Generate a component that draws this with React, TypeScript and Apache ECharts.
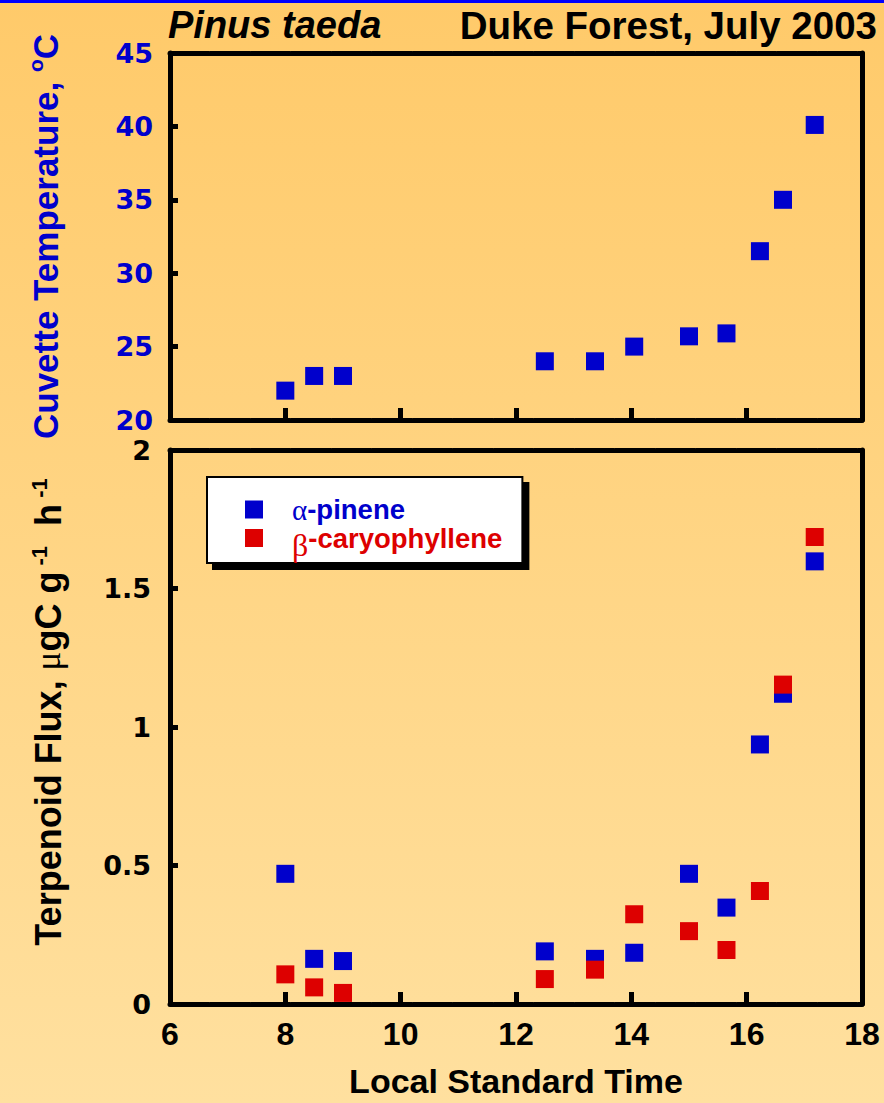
import React, { useEffect, useRef } from "react";
import * as echarts from "echarts";

// ---- Data ----
const timeHours = [8.0, 8.5, 9.0, 12.5, 13.37, 14.05, 15.0, 15.65, 16.23, 16.63, 17.18];
const cuvetteTemperature = [22, 23, 23, 24, 24, 25, 25.7, 25.9, 31.5, 35, 40.1];
const alphaPinene = [0.47, 0.163, 0.155, 0.19, 0.163, 0.185, 0.47, 0.348, 0.937, 1.12, 1.598];
const betaCaryophyllene = [0.107, 0.06, 0.04, 0.09, 0.124, 0.324, 0.263, 0.195, 0.408, 1.153, 1.686];

const seriesNames = ["α-pinene", "β-caryophyllene"];
const titleLeft = "Pinus taeda";
const titleRight = "Duke Forest, July 2003";
const xAxisTitle = "Local Standard Time";

const xRange = { min: 6, max: 18, interval: 2 };
const tempRange = { min: 20, max: 45, interval: 5 };
const fluxRange = { min: 0, max: 2, interval: 0.5 };

// ---- Styles ----
const SANS = '"Liberation Sans", Arial, Helvetica, sans-serif';
const WIDE = '"DejaVu Sans", Verdana, sans-serif';
const SERIF = '"Liberation Serif", "Times New Roman", serif';
const BLUE = "#0000CC";
const RED = "#DD0000";

const solidFrame = { show: true, onZero: false, lineStyle: { color: "#000", width: 5 } };
const dashedFrame = { show: true, onZero: false, lineStyle: { color: "#000", width: 5, type: [39, 1.5] } };
const xTickInside = { show: true, inside: true, length: 12, lineStyle: { color: "#000", width: 5 } };
const yTickInside = { show: true, inside: true, length: 8, lineStyle: { color: "#000", width: 5 } };

function buildOption(): any {
  const baseX = { type: "value", ...xRange, splitLine: { show: false } };
  const xAxis = [
    { ...baseX, gridIndex: 0, position: "bottom", axisLine: dashedFrame, axisTick: xTickInside, axisLabel: { show: false } },
    { ...baseX, gridIndex: 0, position: "top", axisLine: dashedFrame, axisTick: { show: false }, axisLabel: { show: false } },
    {
      ...baseX, gridIndex: 1, position: "bottom", axisLine: dashedFrame, axisTick: xTickInside,
      axisLabel: { show: true, color: "#000", fontFamily: SANS, fontWeight: "bold", fontSize: 32, margin: 14 },
      name: xAxisTitle, nameLocation: "middle", nameGap: 60,
      nameTextStyle: { color: "#000", fontFamily: SANS, fontWeight: "bold", fontSize: 34 },
    },
    { ...baseX, gridIndex: 1, position: "top", axisLine: dashedFrame, axisTick: { show: false }, axisLabel: { show: false } },
  ];

  const supStyle = (color: string, size: number) => ({ fontFamily: SANS, fontWeight: "bold", fontSize: size, color, lineHeight: 10, verticalAlign: "top" });
  const mainStyle = (color: string, size: number) => ({ fontFamily: SANS, fontWeight: "bold", fontSize: size, color, lineHeight: 40 });

  const yAxis = [
    {
      type: "value", gridIndex: 0, ...tempRange, position: "left", splitLine: { show: false },
      axisLine: solidFrame, axisTick: yTickInside,
      axisLabel: { color: BLUE, fontFamily: WIDE, fontWeight: "bold", fontSize: 27, margin: 17 },
      name: "{t|Cuvette Temperature, }{s|o}{t|C}", nameLocation: "middle", nameGap: 105, nameRotate: 90,
      nameTextStyle: { rich: { t: mainStyle(BLUE, 35), s: supStyle(BLUE, 21) } },
    },
    {
      type: "value", gridIndex: 0, ...tempRange, position: "right", splitLine: { show: false },
      axisLine: solidFrame, axisTick: { show: false }, axisLabel: { show: false },
    },
    {
      type: "value", gridIndex: 1, ...fluxRange, position: "left", splitLine: { show: false },
      axisLine: solidFrame, axisTick: yTickInside,
      axisLabel: { color: "#000", fontFamily: WIDE, fontWeight: "bold", fontSize: 27, margin: 19 },
      name: "{t|Terpenoid Flux, }{m|μ}{t|gC g}{s| -1}{t|  h}{s| -1}", nameLocation: "middle", nameGap: 102, nameRotate: 90,
      nameTextStyle: {
        padding: [0, 0, 0, 30],
        rich: {
          t: mainStyle("#000", 36),
          s: supStyle("#000", 22),
          m: { fontFamily: SERIF, fontSize: 35, color: "#000", lineHeight: 40 },
        },
      },
    },
    {
      type: "value", gridIndex: 1, ...fluxRange, position: "right", splitLine: { show: false },
      axisLine: solidFrame, axisTick: { show: false }, axisLabel: { show: false },
    },
  ];

  const pts = (ys: number[]) => timeHours.map((t, i) => [t, ys[i]]);

  return {
    animation: false,
    backgroundColor: new echarts.graphic.LinearGradient(0, 0, 0, 1, [
      { offset: 0, color: "#FFCA6A" },
      { offset: 1, color: "#FFE09F" },
    ]),
    title: [
      { text: titleLeft, left: 168, top: 6, padding: 0, textStyle: { fontFamily: SANS, fontStyle: "italic", fontWeight: "bold", fontSize: 38, color: "#000" } },
      { text: titleRight, right: 7, top: 6, padding: 0, textStyle: { fontFamily: SANS, fontWeight: "bold", fontSize: 38.5, color: "#000" } },
    ],
    graphic: [
      { type: "rect", shape: { x: 0, y: 0, width: 884, height: 3 }, style: { fill: "#0000FF" }, z: 10 },
    ],
    grid: [
      { left: 170, top: 53, width: 692, height: 367, show: false },
      { left: 170, top: 450, width: 692, height: 558, show: false },
    ],
    xAxis,
    yAxis,
    legend: {
      show: true,
      data: seriesNames,
      orient: "vertical",
      left: 207,
      top: 477,
      icon: "rect",
      itemWidth: 18,
      itemHeight: 18,
      itemGap: 0,
      selectedMode: false,
      padding: [18, 20, 2, 38],
      backgroundColor: "#FFFFFF",
      borderColor: "#000",
      borderWidth: 2,
      borderRadius: 0,
      shadowColor: "#000",
      shadowBlur: 0,
      shadowOffsetX: 6,
      shadowOffsetY: 6,
      z: 6,
      formatter: (name: string) =>
        name === seriesNames[0] ? "{sp| }{ga|α}{pa|-pinene}" : "{sp| }{gb|β}{pb|-caryophyllene}",
      textStyle: {
        rich: {
          sp: { width: 24, lineHeight: 18 },
          ga: { fontFamily: SERIF, fontSize: 29, color: BLUE, lineHeight: 18 },
          pa: { fontFamily: SANS, fontWeight: "bold", fontSize: 27.5, color: BLUE, lineHeight: 18 },
          gb: { fontFamily: SERIF, fontSize: 32, color: RED, lineHeight: 30, verticalAlign: "bottom" },
          pb: { fontFamily: SANS, fontWeight: "bold", fontSize: 27.5, color: RED, lineHeight: 46 },
        },
      },
    },
    series: [
      {
        name: "Cuvette Temperature", type: "scatter", xAxisIndex: 0, yAxisIndex: 0,
        symbol: "rect", symbolSize: 18, itemStyle: { color: BLUE, opacity: 1 }, data: pts(cuvetteTemperature),
      },
      {
        name: seriesNames[0], type: "scatter", xAxisIndex: 2, yAxisIndex: 2,
        symbol: "rect", symbolSize: 18, itemStyle: { color: BLUE, opacity: 1 }, data: pts(alphaPinene),
      },
      {
        name: seriesNames[1], type: "scatter", xAxisIndex: 2, yAxisIndex: 2,
        symbol: "rect", symbolSize: 18, itemStyle: { color: RED, opacity: 1 }, data: pts(betaCaryophyllene),
      },
    ],
  };
}

export default function App() {
  const ref = useRef<HTMLDivElement>(null);
  useEffect(() => {
    const el = ref.current;
    if (!el) return;
    const chart = echarts.init(el, null, { renderer: "svg", width: 884, height: 1103 });
    chart.setOption(buildOption());
    return () => chart.dispose();
  }, []);
  return (
    <div
      ref={ref}
      style={{ position: "absolute", left: 0, top: 0, width: 884, height: 1103 }}
    />
  );
}
